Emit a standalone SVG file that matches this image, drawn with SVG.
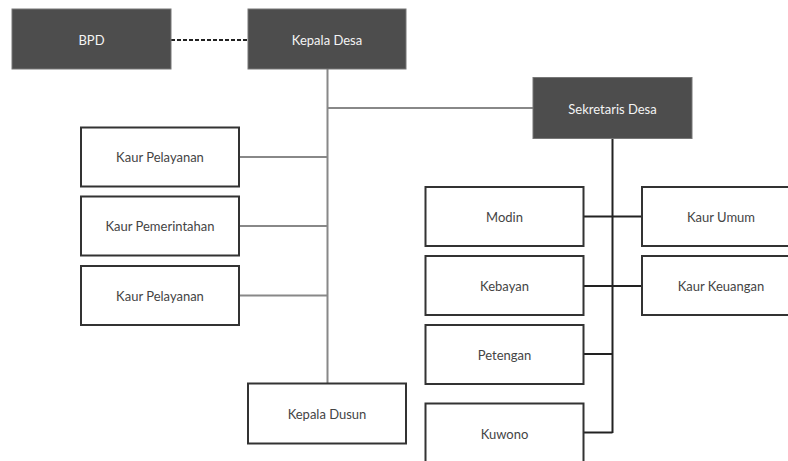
<svg xmlns="http://www.w3.org/2000/svg" width="788" height="461" viewBox="0 0 788 461">
<style>
.dark rect{fill:#4d4d4d;stroke:#777;stroke-width:1}
.light rect{fill:#fff;stroke:#333;stroke-width:2}
text{font-family:Lato,"Open Sans",sans-serif;font-size:13px;text-anchor:middle;dominant-baseline:central}
.dark text{fill:#f4f4f4}
.light text{fill:#444}
.g{stroke:#888;stroke-width:2;fill:none}
.b{stroke:#222;stroke-width:2;fill:none}
.d{stroke:#222;stroke-width:2;stroke-dasharray:4 2;fill:none}
</style>
<rect width="788" height="461" fill="#fff"/>
<g id="connectors">
<line class="d" x1="171" y1="40" x2="248" y2="40"/>
<line class="g" x1="327.5" y1="69" x2="327.5" y2="383"/>
<line class="g" x1="327.5" y1="108" x2="533" y2="108"/>
<line class="g" x1="239" y1="157" x2="327.5" y2="157"/>
<line class="g" x1="239" y1="226" x2="327.5" y2="226"/>
<line class="g" x1="239" y1="295.5" x2="327.5" y2="295.5"/>
<line class="b" x1="612.5" y1="138" x2="612.5" y2="433"/>
<line class="b" x1="583" y1="216.5" x2="642" y2="216.5"/>
<line class="b" x1="583" y1="286" x2="642" y2="286"/>
<line class="b" x1="583" y1="354" x2="612.5" y2="354"/>
<line class="b" x1="583" y1="432.5" x2="612.5" y2="432.5"/>
</g>
<g id="bpd" class="dark"><rect x="12" y="9" width="159" height="60"/><text x="91.5" y="40">BPD</text></g>
<g id="kepala-desa" class="dark"><rect x="248" y="9" width="158" height="60"/><text x="327" y="40">Kepala Desa</text></g>
<g id="sekretaris-desa" class="dark"><rect x="533" y="77.5" width="159" height="61"/><text x="612.5" y="108.5">Sekretaris Desa</text></g>
<g id="kaur-pelayanan-1" class="light"><rect x="81" y="127.5" width="158" height="59"/><text x="160" y="157">Kaur Pelayanan</text></g>
<g id="kaur-pemerintahan" class="light"><rect x="81" y="196.5" width="158" height="59"/><text x="160" y="226">Kaur Pemerintahan</text></g>
<g id="kaur-pelayanan-2" class="light"><rect x="81" y="266" width="158" height="59"/><text x="160" y="295.5">Kaur Pelayanan</text></g>
<g id="kepala-dusun" class="light"><rect x="248" y="383.5" width="158" height="60"/><text x="327" y="413.5">Kepala Dusun</text></g>
<g id="modin" class="light"><rect x="425.5" y="187" width="158" height="59"/><text x="504.5" y="216.5">Modin</text></g>
<g id="kebayan" class="light"><rect x="425.5" y="256" width="158" height="59"/><text x="504.5" y="286">Kebayan</text></g>
<g id="petengan" class="light"><rect x="425.5" y="325" width="158" height="59"/><text x="504.5" y="354.5">Petengan</text></g>
<g id="kuwono" class="light"><rect x="425.5" y="403.5" width="158" height="60"/><text x="504.5" y="434">Kuwono</text></g>
<g id="kaur-umum" class="light"><rect x="642" y="187" width="158" height="59"/><text x="721" y="216.5">Kaur Umum</text></g>
<g id="kaur-keuangan" class="light"><rect x="642" y="256" width="158" height="59"/><text x="721" y="286">Kaur Keuangan</text></g>
</svg>
